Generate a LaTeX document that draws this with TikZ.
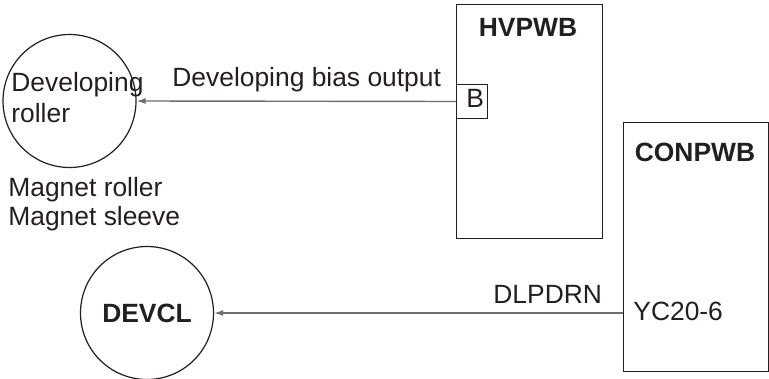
\documentclass[tikz,border=0pt]{standalone}
\usepackage{fontspec}
\setmainfont{Liberation Sans}
\usetikzlibrary{arrows.meta}
\definecolor{ink}{HTML}{231F20}
\definecolor{wire}{HTML}{6D6E70}
\begin{document}
\begin{tikzpicture}[x=0.5pt,y=-0.5pt,
  txt/.style={inner sep=0pt,anchor=base west,text=ink,font=\fontsize{13.2}{15}\selectfont},
  btxt/.style={inner sep=0pt,anchor=base,text=ink,font=\fontsize{13.2}{15}\selectfont\bfseries},
  board/.style={draw=ink,line width=0.7pt,rectangle,anchor=north west,inner sep=0pt},
  roll/.style={draw=ink,line width=0.6pt,circle,inner sep=0pt,minimum size=66.5pt},
  conn/.style={draw=wire,line width=0.7pt,-{Latex[length=4.5pt,width=3pt]}}]
\useasboundingbox (0,0) rectangle (769,379);
% boards
\node[board,minimum width=73pt,minimum height=117pt] (hv) at (456,4) {};
\node[board,minimum width=72.5pt,minimum height=124.5pt] (con) at (623,122) {};
\node[board,draw=ink,line width=0.5pt,minimum width=15.5pt,minimum height=17pt] (b) at (456,84) {};
% rollers
\node[roll] (dev) at (69.5,101) {};
\node[roll] (devcl) at (147,313) {};
% texts
\node[btxt] (hvt) at (528,37) {HVPWB};
\node[btxt] (cont) at (695,162) {CONPWB};
\node[txt] (bt) at (466,108) {B};
\node[txt] (yc) at (633,320) {YC20-6};
\node[btxt] (devclt) at (147,322) {DEVCL};
\node[txt] (dev1) at (11,92) {Developing};
\node[txt] (dev2) at (11,123) {roller};
\node[txt] (mag1) at (8,196) {Magnet roller};
\node[txt] (mag2) at (8,225) {Magnet sleeve};
\node[txt] (bias) at (172,87) {Developing bias output};
\node[txt] (dl) at (493,303) {DLPDRN};
% connectors
\draw[conn] (b.west) -- (dev.east);
\draw[conn] (devcl.east -| con.west) -- (devcl.east);
\end{tikzpicture}
\end{document}
